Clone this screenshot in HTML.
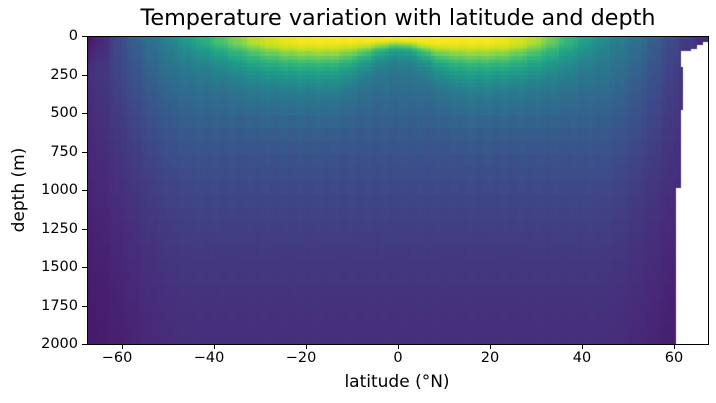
<!DOCTYPE html>
<html><head><meta charset="utf-8"><style>
body{margin:0;background:#fff;width:716px;height:403px;overflow:hidden;position:relative;font-family:"DejaVu Sans","Liberation Sans",sans-serif;color:#000}
canvas{position:absolute;left:87px;top:36px}
.f{position:absolute;left:87px;top:36px;width:620px;height:307px;border:1px solid #000;}
.t{position:absolute;font-size:14.5px;line-height:16px}
.yl{right:638px;text-align:right}
.xl{top:350px;transform:translateX(-50%)}
.tk{position:absolute;background:#000}
</style></head><body>
<canvas id="c" width="621" height="308"></canvas>
<div class="f"></div>
<div style="position:absolute;left:0;width:796px;top:5px;text-align:center;font-size:22.3px;white-space:nowrap">Temperature variation with latitude and depth</div>
<div style="position:absolute;left:397px;top:372px;transform:translateX(-50%);font-size:17px;white-space:nowrap">latitude (°N)</div>
<div style="position:absolute;left:19px;top:190px;transform:translate(-50%,-50%) rotate(-90deg);font-size:17px;white-space:nowrap">depth (m)</div>
<div id="ax"></div>
<script>
var ax=document.getElementById('ax'),h='';
for(var i=0;i<=8;i++){var y=36+i*38.5;h+='<div class="t yl" style="top:'+(y-8)+'px">'+(i*250)+'</div><div class="tk" style="left:82px;top:'+y+'px;width:5px;height:1px"></div>';}
for(var l=-60;l<=60;l+=20){var x=398+l*4.6;h+='<div class="t xl" style="left:'+(x-(l<0?5:0))+'px">'+(l<0?'\u2212'+(-l):l)+'</div><div class="tk" style="left:'+x+'px;top:344px;width:1px;height:5px"></div>';}
ax.innerHTML=h;
var V=[[0,0x44,0x01,0x54],[.1,0x48,0x28,0x78],[.2,0x3e,0x49,0x89],[.3,0x31,0x68,0x8e],[.4,0x26,0x82,0x8e],[.5,0x1f,0x9e,0x89],[.6,0x35,0xb7,0x79],[.7,0x6e,0xce,0x58],[.8,0xb5,0xde,0x2b],[.9,0xdd,0xe3,0x18],[1,0xfd,0xe7,0x25]];
function cm(t){t=Math.max(0,Math.min(1,t));for(var i=1;i<V.length;i++){if(t<=V[i][0]){var a=V[i-1],b=V[i],f=(t-a[0])/(b[0]-a[0]);return[a[1]+(b[1]-a[1])*f,a[2]+(b[2]-a[2])*f,a[3]+(b[3]-a[3])*f];}}return[0xfd,0xe7,0x25];}
function ss(a,b,x){var t=Math.max(0,Math.min(1,(x-a)/(b-a)));return t*t*(3-2*t);}
function T(lat,d){
 var w=lat<0?ss(-72,-44,lat):1-ss(42,70,lat);
 var e=0.1-0.04*ss(0,2000,d);
 if(lat<-58&&d<200)e-=0.08*(1-d/200)*ss(-58,-66,lat);
 var c=0.08+0.35*Math.exp(-d/900);
 var A=0.56*(lat<0?ss(-54,-18,lat):1-ss(18,48,lat));
 var al=Math.abs(lat);
 var f=ss(0,16,al);
 var eq=Math.exp(-Math.pow((lat-8)/3.5,2));
 var H=25+20*f+10*eq, L=45+110*f-50*ss(30,48,al);
 var s=A*Math.exp(-Math.max(0,d-H)/L);
 return e+(c-e)*w+s+0.012*Math.sin(lat*1.7)*Math.exp(-d/800);
}
function white(lat,d){
 if(lat>60.4&&d>985)return true;
 if(lat>61.4&&d>95&&!(lat<61.9&&d>200&&d<480))return true;
 if(lat>63.5&&d>80)return true;
 if(lat>65&&d>55)return true;
 if(lat>66.3&&d>35)return true;
 return false;
}
var cv=document.getElementById('c'),ctx=cv.getContext('2d'),im=ctx.createImageData(621,308),D=im.data;
for(var y=0;y<308;y++){var d=y*2000/308;var dq=d<100?Math.floor(d/12)*12+6:(d<500?Math.floor(d/25)*25+12:Math.floor(d/85)*85+40);
 for(var x=0;x<621;x++){var lat=-67.6+x*135/621;var lq=Math.floor(lat)+0.5;var k=(y*621+x)*4;
  if(white(lat,d)){D[k]=D[k+1]=D[k+2]=255;}else{var c=cm(T(lq,dq));D[k]=c[0];D[k+1]=c[1];D[k+2]=c[2];}
  D[k+3]=255;}}
ctx.putImageData(im,0,0);
</script>
</body></html>
